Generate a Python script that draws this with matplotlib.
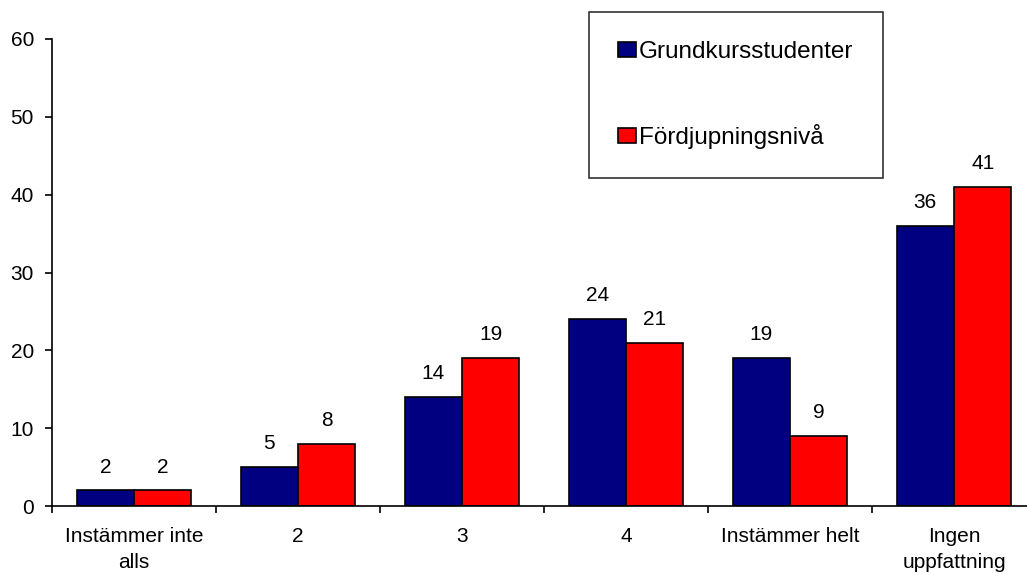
import numpy as np
import matplotlib.pyplot as plt

categories = ["Instämmer inte\nalls", "2", "3", "4", "Instämmer helt", "Ingen\nuppfattning"]
grund = [2, 5, 14, 24, 19, 36]
fordj = [2, 8, 19, 21, 9, 41]
series_names = ["Grundkursstudenter", "Fördjupningsnivå"]
y_ticks = [0, 10, 20, 30, 40, 50, 60]


def main():
    plt.rcParams['font.family'] = ['Liberation Sans', 'DejaVu Sans']
    W, H = 1027, 575
    fig = plt.figure(figsize=(W / 100, H / 100), dpi=100)
    # plot area measured in pixels from the reference
    ax = fig.add_axes([52 / W, 1 - 506 / H, 984 / W, (506 - 39) / H])

    x = np.arange(len(categories))
    w = 0.35
    b1 = ax.bar(x - w / 2, grund, w, color='#000080', edgecolor='black', linewidth=1.2,
                label=series_names[0])
    b2 = ax.bar(x + w / 2, fordj, w, color='#ff0000', edgecolor='black', linewidth=1.2,
                label=series_names[1])
    for bars in (b1, b2):
        ax.bar_label(bars, padding=10, fontsize=15)

    ax.set_xlim(-0.5, len(categories) - 0.5)
    ax.set_ylim(0, 60)
    ax.set_yticks(y_ticks)
    ax.tick_params(axis='y', labelsize=15, length=5, width=1.2, pad=8)

    # category labels centred, ticks at category boundaries
    ax.set_xticks(x)
    ax.set_xticklabels(categories, fontsize=15, linespacing=1.45)
    ax.tick_params(axis='x', which='major', length=0, pad=15)
    ax.set_xticks(np.arange(len(categories) + 1) - 0.5, minor=True)
    ax.tick_params(axis='x', which='minor', length=5, width=1.2)

    for s in ('top', 'right'):
        ax.spines[s].set_visible(False)
    ax.spines['left'].set_linewidth(1.2)
    ax.spines['bottom'].set_linewidth(1.2)

    leg = fig.legend(loc='upper left', bbox_to_anchor=(589 / W, 1 - 12 / H),
                     fontsize=17.5, frameon=True, fancybox=False, shadow=False,
                     borderpad=1.2, labelspacing=2.5, handlelength=0.74,
                     handleheight=0.62, handletextpad=0.12, borderaxespad=0)
    leg.get_frame().set_edgecolor('black')
    leg.get_frame().set_linewidth(1.2)

    fig.savefig('out.png', dpi=100)


if __name__ == "__main__":
    main()
